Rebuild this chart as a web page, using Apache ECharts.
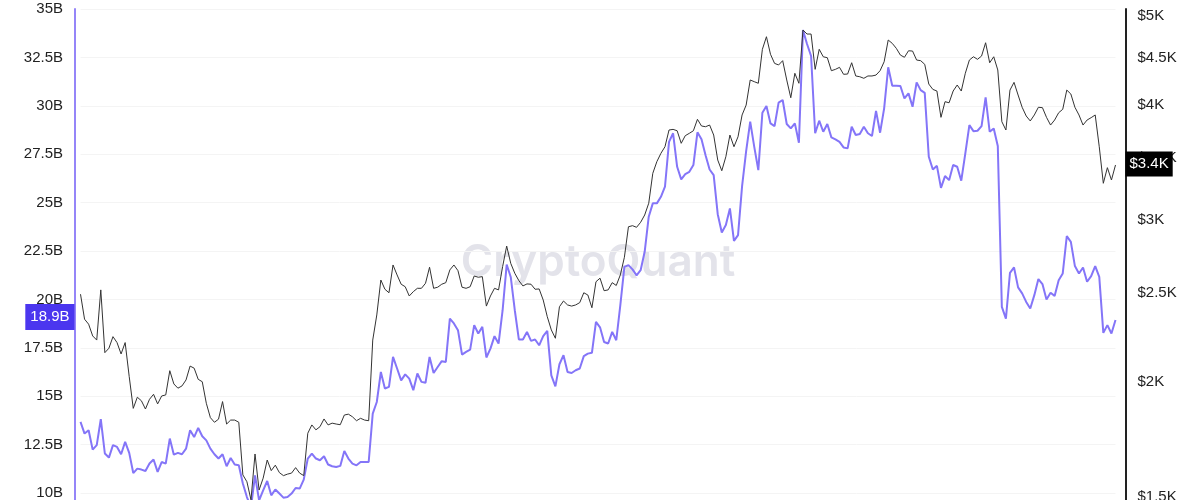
<!DOCTYPE html>
<html>
<head>
<meta charset="utf-8">
<script src="https://cdn.jsdelivr.net/npm/echarts@6/dist/echarts.min.js"></script>
<style>
html, body { margin: 0; padding: 0; background: #fff; overflow: hidden; }
/* taller than the window on purpose: the lower part of the plot is cut off in the original */
#chart { width: 1200px; height: 542px; }
</style>
</head>
<body>
<div id="chart"></div>
<script>
// left axis, billions
const supplyB = [
  13.67, 13.07, 13.24, 12.24, 12.47, 13.81, 12.04, 11.83, 12.47, 12.38,
  12.00, 12.64, 12.07, 11.03, 11.26, 11.21, 11.14, 11.52, 11.73, 11.09,
  11.60, 11.52, 12.81, 11.98, 12.07, 12.00, 12.29, 13.24, 12.89, 13.36,
  12.93, 12.72, 12.29, 12.00, 11.78, 12.00, 11.38, 11.81, 11.47, 11.43,
  10.49, 9.79, 9.26, 10.91, 9.62, 10.14, 10.62, 9.88, 10.18, 9.97,
  9.76, 9.79, 9.97, 10.26, 10.23, 10.69, 11.78, 12.04, 11.78, 11.69,
  11.90, 11.47, 11.38, 11.34, 11.40, 12.17, 11.78, 11.52, 11.43, 11.60,
  11.60, 11.60, 14.10, 14.70, 16.25, 15.40, 15.48, 17.03, 16.43, 15.82,
  16.13, 15.91, 15.31, 16.17, 15.74, 15.69, 17.03, 16.20, 16.51, 16.81,
  16.77, 19.01, 18.76, 18.41, 17.15, 17.29, 17.41, 18.67, 18.24, 18.58,
  17.00, 17.46, 18.10, 17.72, 19.44, 21.80, 21.16, 19.44, 17.93, 17.93,
  18.32, 17.86, 17.93, 17.63, 18.10, 18.37, 16.08, 15.51, 16.65, 17.12,
  16.25, 16.20, 16.34, 16.43, 17.07, 17.20, 17.24, 18.84, 18.56, 17.80,
  17.72, 18.32, 17.89, 19.70, 21.68, 21.77, 21.55, 21.24, 21.51, 22.46,
  24.27, 24.96, 24.96, 25.30, 25.82, 28.14, 28.58, 26.85, 26.20, 26.47,
  26.59, 26.94, 28.63, 28.27, 27.45, 26.71, 26.42, 24.40, 23.46, 23.84,
  24.70, 23.02, 23.32, 25.85, 27.66, 29.18, 27.88, 26.68, 29.64, 29.99,
  29.09, 28.95, 30.16, 30.30, 29.06, 28.83, 29.09, 28.09, 33.91, 33.19,
  32.57, 28.58, 29.23, 28.66, 29.06, 28.37, 28.27, 28.14, 27.85, 27.80,
  28.92, 28.49, 28.54, 28.92, 28.58, 28.44, 29.74, 28.61, 29.87, 31.99,
  31.04, 31.04, 31.02, 30.38, 30.64, 29.95, 31.21, 30.81, 30.67, 27.37,
  26.71, 26.90, 25.76, 26.37, 26.16, 26.94, 26.85, 26.13, 27.54, 29.00,
  28.69, 28.71, 28.95, 30.44, 28.66, 28.83, 27.92, 19.61, 19.01, 21.37,
  21.65, 20.62, 20.31, 19.87, 19.53, 20.22, 21.05, 20.79, 20.00, 20.34,
  20.18, 20.99, 21.34, 23.27, 22.97, 21.72, 21.34, 21.65, 20.91, 21.20,
  21.72, 21.16, 18.27, 18.67, 18.24, 18.94
]

// right axis, USD (log)
const priceUsd = [
  2490, 2339, 2310, 2243, 2220, 2517, 2151, 2175, 2239, 2206,
  2144, 2206, 2026, 1871, 1924, 1907, 1868, 1914, 1938, 1892,
  1930, 1935, 2056, 1989, 1968, 1979, 2009, 2080, 2069, 2012,
  2000, 1895, 1828, 1807, 1821, 1903, 1799, 1817, 1817, 1807,
  1584, 1557, 1488, 1669, 1525, 1571, 1644, 1601, 1623, 1593,
  1581, 1587, 1591, 1613, 1591, 1581, 1758, 1795, 1773, 1787,
  1822, 1795, 1803, 1799, 1796, 1840, 1844, 1832, 1814, 1825,
  1817, 1814, 2220, 2364, 2580, 2521, 2499, 2679, 2613, 2553,
  2537, 2479, 2506, 2527, 2527, 2559, 2664, 2527, 2534, 2553,
  2563, 2646, 2679, 2641, 2534, 2527, 2537, 2606, 2598, 2602,
  2417, 2479, 2527, 2517, 2668, 2809, 2690, 2624, 2576, 2542,
  2555, 2553, 2521, 2523, 2454, 2354, 2277, 2230, 2413, 2448,
  2424, 2417, 2424, 2438, 2499, 2485, 2407, 2569, 2592, 2512,
  2517, 2563, 2545, 2613, 2731, 2948, 2956, 2944, 2981, 3036,
  3127, 3370, 3470, 3543, 3602, 3756, 3762, 3749, 3633, 3703,
  3725, 3749, 3858, 3794, 3787, 3803, 3709, 3484, 3392, 3513,
  3709, 3602, 3693, 3900, 3998, 4257, 4239, 4222, 4597, 4744,
  4540, 4438, 4420, 4468, 4257, 4072, 4329, 4222, 4824, 4776,
  4776, 4372, 4597, 4512, 4501, 4357, 4372, 4394, 4318, 4321,
  4445, 4300, 4292, 4275, 4300, 4300, 4310, 4357, 4456, 4705,
  4666, 4608, 4531, 4506, 4580, 4577, 4475, 4468, 4427, 4214,
  4158, 4141, 3877, 4032, 4021, 4141, 4204, 4141, 4329, 4475,
  4512, 4483, 4520, 4673, 4445, 4512, 4365, 3835, 3756, 4151,
  4232, 4100, 3976, 3890, 3842, 3900, 3976, 3972, 3877, 3803,
  3851, 3922, 3956, 4151, 4110, 3976, 3900, 3803, 3851, 3874,
  3900, 3602, 3287, 3418, 3314, 3441
]

const priceTicks = [1500, 2000, 2500, 3000, 3500, 4000, 4500, 5000]

const days = supplyB.map((v, i) => i)

const lastSupply = supplyB[supplyB.length - 1]
const lastPrice = priceUsd[priceUsd.length - 1]

const font = '"Liberation Sans", Arial, sans-serif'

const chart = echarts.init(document.getElementById('chart'))

chart.setOption({
  animation: false,
  backgroundColor: '#fff',
  grid: { left: 80.5, right: 84.5, top: 9, bottom: 0.6, outerBoundsMode: 'none', containLabel: false },
  graphic: [{
    type: 'text',
    x: 598,
    y: 263,
    z: 0,
    style: {
      text: 'CryptoQuant',
      font: '600 44px Inter, ' + font,
      fill: '#e3e3ea',
      textAlign: 'center',
      textVerticalAlign: 'middle'
    }
  }],
  xAxis: {
    type: 'category',
    data: days,
    boundaryGap: false,
    show: false
  },
  yAxis: [
    {
      type: 'value',
      position: 'left',
      offset: 5.5,
      min: 7.5,
      max: 35,
      interval: 2.5,
      axisLine: { show: true, lineStyle: { color: '#9585f8', width: 2 } },
      axisTick: { show: false },
      axisLabel: {
        margin: 12,
        color: '#222',
        fontSize: 15,
        fontFamily: font,
        formatter: v => v + 'B'
      },
      splitLine: { lineStyle: { color: '#f4f4f4', width: 1 } }
    },
    {
      type: 'log',
      position: 'right',
      offset: 10,
      min: 1341,
      max: 5085,
      axisLine: { show: true, lineStyle: { color: '#222', width: 2 } },
      axisTick: { show: false },
      axisLabel: {
        margin: 12,
        color: '#222',
        fontSize: 15,
        fontFamily: font,
        customValues: priceTicks,
        formatter: v => '$' + (v / 1000) + 'K'
      },
      splitLine: { show: false }
    }
  ],
  series: [
    {
      name: 'Supply',
      type: 'line',
      yAxisIndex: 0,
      data: supplyB,
      showSymbol: false,
      lineStyle: { color: '#8475f8', width: 2 },
      markLine: {
        silent: true,
        symbol: 'none',
        lineStyle: { color: 'rgba(0,0,0,0)', width: 0 },
        data: [{ yAxis: lastSupply }],
        label: {
          show: true,
          position: 'start',
          distance: 6,
          offset: [0, -3],
          formatter: lastSupply.toFixed(1) + 'B',
          backgroundColor: '#4b36ef',
          color: '#fff',
          fontSize: 15,
          fontFamily: font,
          lineHeight: 17,
          padding: [5, 5, 4, 5]
        }
      }
    },
    {
      name: 'Price',
      type: 'line',
      yAxisIndex: 1,
      data: priceUsd,
      showSymbol: false,
      lineStyle: { color: '#333', width: 1 },
      markLine: {
        silent: true,
        symbol: 'none',
        lineStyle: { color: 'rgba(0,0,0,0)', width: 0 },
        data: [{ yAxis: lastPrice }],
        label: {
          show: true,
          position: 'end',
          distance: 10,
          offset: [0, -1],
          formatter: '$' + (lastPrice / 1000).toFixed(1) + 'K',
          backgroundColor: '#000',
          color: '#fff',
          fontSize: 15,
          fontFamily: font,
          lineHeight: 17,
          padding: [4, 4, 4, 4]
        }
      }
    }
  ]
})
</script>
</body>
</html>
